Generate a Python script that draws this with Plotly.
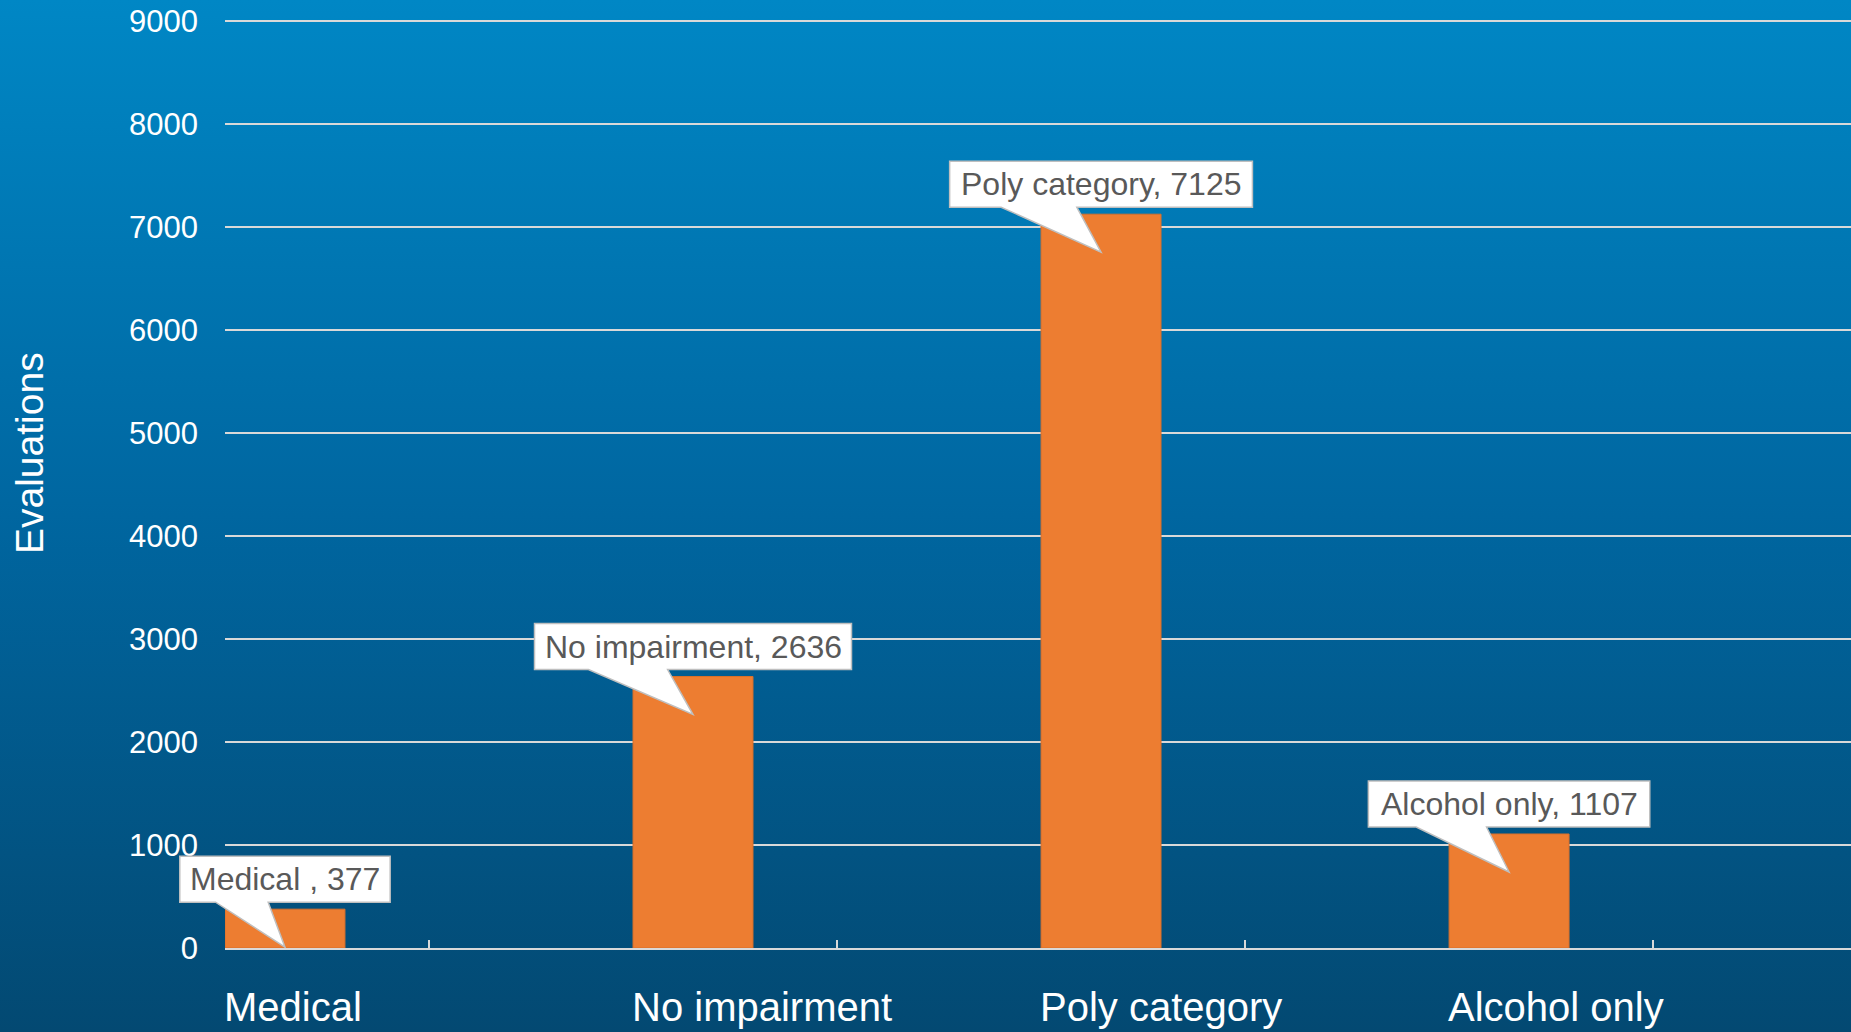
import base64
import plotly.graph_objects as go

# Evaluation counts by category
categories = ["Medical", "No impairment", "Poly category", "Alcohol only"]
evaluations = [377, 2636, 7125, 1107]
callout_labels = ["Medical , 377", "No impairment, 2636", "Poly category, 7125", "Alcohol only, 1107"]
y_ticks = [0, 1000, 2000, 3000, 4000, 5000, 6000, 7000, 8000, 9000]

FONT = "Liberation Sans, Arial, sans-serif"
BAR_COLOR = "#ED7D31"
GRID = "#D9D9D9"
W, H = 1851, 1032
M_L, M_R, M_T, M_B = 225, 0, 18, 84
BAR_W = 0.294          # bar width in category units
X_MIN, X_MAX = -0.5, 3.485
Y_MAX = 9030           # a little headroom so the top gridline is kept

# Arial / Liberation Sans advance widths (em) for callout sizing
ADV = {" ": .278, ",": .278, "0": .556, "1": .556, "2": .556, "3": .556, "4": .556,
       "5": .556, "6": .556, "7": .556, "8": .556, "9": .556,
       "A": .667, "M": .833, "N": .722, "P": .667,
       "a": .556, "c": .5, "d": .556, "e": .556, "g": .556, "h": .556, "i": .222,
       "l": .222, "m": .833, "n": .556, "o": .556, "p": .556, "r": .333, "t": .278,
       "y": .5}
CALLOUT_FS = 32


def text_width(s, size):
    return sum(ADV.get(ch, .556) for ch in s) * size


fig = go.Figure()

# background gradient
svg = (f"<svg xmlns='http://www.w3.org/2000/svg' width='{W}' height='{H}' preserveAspectRatio='none'>"
       "<defs><linearGradient id='g' x1='0' y1='0' x2='0' y2='1'>"
       "<stop offset='0' stop-color='#0087C5'/><stop offset='0.5' stop-color='#0066A0'/>"
       "<stop offset='1' stop-color='#034972'/></linearGradient></defs>"
       f"<rect x='0' y='0' width='{W}' height='{H}' fill='url(#g)'/></svg>")
src = "data:image/svg+xml;base64," + base64.b64encode(svg.encode()).decode()
pw = W - M_L - M_R
ph = H - M_T - M_B
fig.add_layout_image(
    source=src, xref="paper", yref="paper",
    x=-M_L / pw, y=1 + M_T / ph, sizex=W / pw, sizey=H / ph,
    xanchor="left", yanchor="top", sizing="stretch", layer="below",
)

fig.add_trace(go.Bar(
    x=categories, y=evaluations,
    width=BAR_W, offset=-0.5,
    marker=dict(color=BAR_COLOR, line=dict(color="#D9702B", width=1)),
    hoverinfo="skip", showlegend=False,
))

shapes = []
annotations = []
for i, (cat, val, lab) in enumerate(zip(categories, evaluations, callout_labels)):
    cx = i - 0.5 + BAR_W / 2
    w = text_width(lab, CALLOUT_FS) + 20
    hw = w / 2
    # callout box with a wedge pointing into the bar (paper x so it isn't clipped)
    path = (f"M {-hw:.1f},53 L {hw:.1f},53 L {hw:.1f},7 L {-0.08 * w:.1f},7 "
            f"L 0,-38 L {-0.33 * w:.1f},7 L {-hw:.1f},7 Z")
    shapes.append(dict(
        type="path", xref="paper", yref="y", xsizemode="pixel", ysizemode="pixel",
        xanchor=(cx - X_MIN) / (X_MAX - X_MIN), yanchor=val, path=path,
        fillcolor="white", line=dict(color="#BFBFBF", width=1.5), layer="above",
    ))
    annotations.append(dict(
        x=cx, y=val, xref="x", yref="y", yshift=30, text=lab, showarrow=False,
        xanchor="center", yanchor="middle",
        font=dict(family=FONT, size=CALLOUT_FS, color="#595959"),
    ))
    # category label, left-aligned with its bar
    annotations.append(dict(
        x=i - 0.5, y=0, xref="x", yref="y", xshift=-3, yshift=-59, text=cat,
        showarrow=False, xanchor="left", yanchor="middle",
        font=dict(family=FONT, size=40, color="white"),
    ))

annotations.append(dict(
    x=(29 - M_L) / pw, y=(H - M_B - 453) / ph, xref="paper", yref="paper",
    text="Evaluations", textangle=-90, showarrow=False,
    xanchor="center", yanchor="middle",
    font=dict(family=FONT, size=39, color="white"),
))

fig.update_layout(
    width=W, height=H, autosize=False,
    margin=dict(l=M_L, r=M_R, t=M_T, b=M_B, pad=0),
    paper_bgcolor="#01608F", plot_bgcolor="rgba(0,0,0,0)",
    font=dict(family=FONT, color="white"),
    shapes=shapes, annotations=annotations,
    xaxis=dict(
        type="category", range=[X_MIN, X_MAX], showticklabels=False,
        showgrid=False, zeroline=False,
        showline=True, linecolor=GRID, linewidth=2,
        ticks="inside", ticklen=8, tickwidth=1.5, tickcolor=GRID,
    ),
    yaxis=dict(
        range=[0, Y_MAX], tickvals=y_ticks, ticktext=[str(v) for v in y_ticks],
        showgrid=True, gridcolor=GRID, gridwidth=1.5,
        zeroline=False, showline=False, ticks="",
        tickfont=dict(family=FONT, size=31, color="white"),
        ticklabelstandoff=26,
    ),
)

fig.write_html("out.html")
